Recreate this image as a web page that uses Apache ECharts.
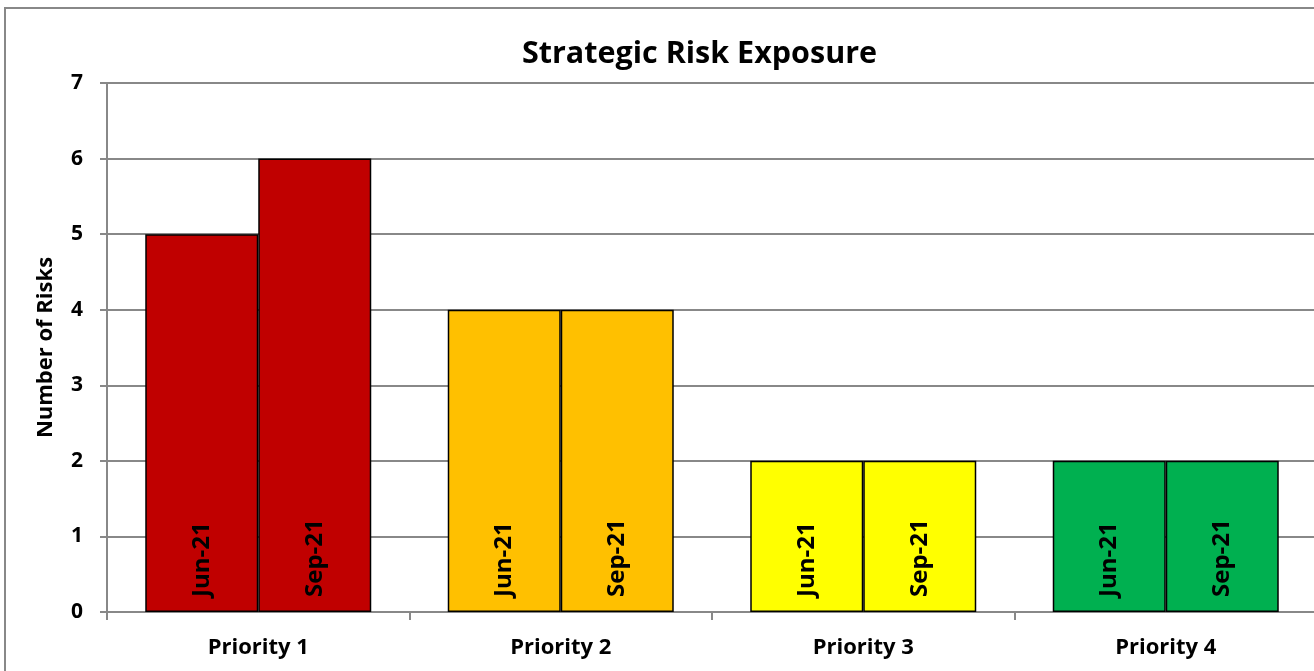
<!DOCTYPE html>
<html><head><meta charset="utf-8">
<script src="https://cdn.jsdelivr.net/npm/echarts@6/dist/echarts.min.js"></script>
<style>html,body{margin:0;padding:0;background:#fff;overflow:hidden;width:1314px;height:671px}#c{width:1399px;height:671px}</style>
</head><body><div id="c"></div>
<script>
const categories = ['Priority 1','Priority 2','Priority 3','Priority 4'];
const periods = ['Jun-21','Sep-21'];
const jun21 = [5,4,2,2];
const sep21 = [6,4,2,2];
const catColors = ['#C00000','#FFC000','#FFFF00','#00B050'];
const yTicks = {min:0,max:7,interval:1};

const font = '"Open Sans", sans-serif';
function mk(name, vals){
  return {
    name, type:'bar', barWidth:113, barGap:'0%',
    data: vals.map((v,i)=>({value:v,itemStyle:{color:catColors[i]}})),
    itemStyle:{borderColor:'#000',borderWidth:1.5},
    label:{show:true,position:'insideBottom',rotate:90,align:'left',verticalAlign:'middle',distance:15,
      formatter:()=>name,color:'#000',fontWeight:'bold',fontSize:24,fontFamily:font}
  };
}
const chart = echarts.init(document.getElementById('c'));
chart.setOption({
  animation:false,
  backgroundColor:'#fff',
  graphic:[{type:'rect',shape:{x:5,y:8,width:1380,height:700},style:{fill:'none',stroke:'#888',lineWidth:2},silent:true,z:-1}],
  title:{text:'Strategic Risk Exposure',left:'center',top:34,textStyle:{fontFamily:font,fontWeight:'bold',fontSize:30.5,color:'#000'}},
  grid:{left:107,top:83,width:1210,bottom:59},
  xAxis:{type:'category',data:categories,
    axisLine:{lineStyle:{color:'#888',width:2}},
    axisTick:{show:true,length:8,lineStyle:{color:'#888',width:2}},
    axisLabel:{margin:25,color:'#000',fontWeight:'bold',fontSize:22,fontFamily:font}},
  yAxis:{type:'value',min:yTicks.min,max:yTicks.max,interval:yTicks.interval,
    name:'Number of Risks',nameLocation:'middle',nameGap:50,nameRotate:90,
    nameTextStyle:{color:'#000',fontWeight:'bold',fontSize:22,fontFamily:font},
    axisLine:{show:true,lineStyle:{color:'#888',width:2}},
    axisTick:{show:true,length:7,lineStyle:{color:'#888',width:2}},
    axisLabel:{margin:24,color:'#000',fontWeight:'bold',fontSize:21,fontFamily:font},
    splitLine:{lineStyle:{color:'#888',width:2}}},
  series:[mk(periods[0],jun21),mk(periods[1],sep21)]
});
</script></body></html>
